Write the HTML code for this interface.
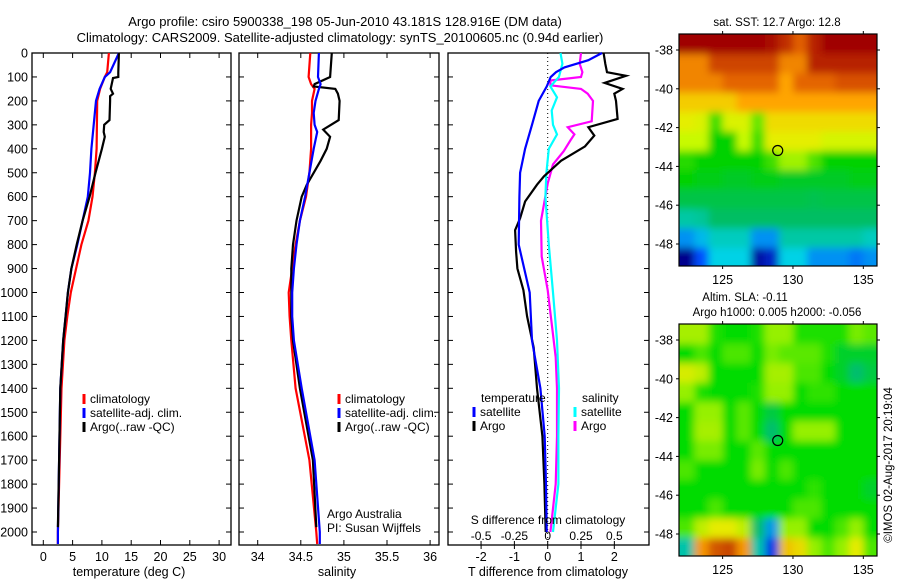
<!DOCTYPE html>
<html><head><meta charset="utf-8"><style>
body{margin:0;background:#fff;}
svg{display:block;font-family:"Liberation Sans",sans-serif;}
text{fill:#000;}
</style></head><body>
<svg id="chart" width="900" height="580" viewBox="0 0 900 580" xmlns="http://www.w3.org/2000/svg">
<defs>
<filter id="blur" filterUnits="userSpaceOnUse" x="600" y="0" width="300" height="580"><feGaussianBlur stdDeviation="4"/></filter>
</defs>
<text x="345" y="26" font-size="13" text-anchor="middle">Argo profile: csiro 5900338_198 05-Jun-2010 43.181S 128.916E (DM data)</text>
<text x="340" y="42" font-size="13" text-anchor="middle">Climatology: CARS2009. Satellite-adjusted climatology: synTS_20100605.nc (0.94d earlier)</text>
<g id="g"></g>
</svg>
<script>
// ---------- data ----------
const tDepth = [0,80,100,105,150,170,180,200,280,300,330,350,400,500,600,700,800,900,1000,1100,1200,1400,1700,1980];
const tArgo  = [12.9,12.8,12.8,11.9,11.5,11.9,11.4,11.4,11.3,10.4,10.3,10.5,10.0,8.9,7.9,6.7,5.7,4.8,4.2,3.8,3.4,2.9,2.7,2.5];
const tDepthC = [0,80,100,150,200,400,500,600,700,800,900,1000,1100,1200,1400,1700,2000,2050];
const tSat  = [12.9,11.4,10.5,9.6,9.0,8.2,7.97,7.6,6.7,5.8,4.8,4.2,3.8,3.4,2.9,2.7,2.5,2.5];
const tClim = [11.2,10.9,10.5,9.7,9.2,9.1,8.8,8.4,7.7,6.5,5.6,4.7,4.1,3.6,3.1,2.8,2.5,2.5];
const sDepth = [0,100,130,140,150,170,200,280,320,350,400,450,500,550,600,700,800,900,1000,1100,1200,1400,1700,1980];
const sArgo = [34.86,34.84,34.66,34.65,34.9,34.93,34.95,34.94,34.76,34.84,34.8,34.73,34.65,34.57,34.51,34.45,34.41,34.39,34.39,34.39,34.41,34.49,34.64,34.68];
const sDepthC = [0,100,130,150,200,250,300,330,400,500,600,700,800,900,1000,1100,1200,1400,1700,2000,2050];
const sSat  = [34.71,34.70,34.73,34.71,34.67,34.65,34.66,34.69,34.65,34.60,34.55,34.49,34.45,34.42,34.40,34.40,34.42,34.51,34.66,34.72,34.72];
const sClim = [34.61,34.59,34.62,34.66,34.63,34.63,34.62,34.62,34.62,34.60,34.56,34.49,34.44,34.40,34.36,34.37,34.39,34.44,34.60,34.68,34.69];
const dtSatDepth = [0,30,60,80,100,140,200,300,400,500,600,800,1000,1200,1400,1600,1800,2000];
const dtSat = [1.63,1.22,0.5,0.25,0.09,-0.03,-0.27,-0.47,-0.68,-0.83,-0.85,-0.87,-0.54,-0.47,-0.22,-0.09,-0.05,-0.03];
const dtArgoDepth = [0,45,80,95,125,150,170,200,275,310,345,390,450,515,550,620,690,740,830,900,990,1100,1230,1400,1600,1800,2000];
const dtArgo = [1.68,1.73,1.78,2.35,1.71,2.25,2.0,2.05,2.1,1.22,1.4,1.12,0.4,-0.11,-0.32,-0.68,-0.83,-0.98,-0.95,-0.91,-0.73,-0.62,-0.42,-0.32,-0.16,-0.1,-0.06];
const dsSatDepth = [0,45,100,140,185,240,300,340,400,500,600,800,1000,1200,1400,1600,1800,2000];
const dsSat = [0.096,0.11,0.084,0.02,0.07,0.03,0.04,0.07,0.008,-0.01,-0.017,0.008,0.04,0.07,0.085,0.08,0.08,0.04];
const dsArgoDepth = [0,45,80,100,115,135,150,170,200,285,310,340,365,410,465,545,700,850,990,1130,1270,1400,1600,1800,2000];
const dsArgo = [0.25,0.24,0.26,0.25,0.02,0.02,0.25,0.3,0.34,0.33,0.15,0.2,0.17,0.12,0.04,0.0,-0.05,-0.045,0.0,0.03,0.06,0.07,0.07,0.06,0.02];
// map grids: rows lat -37.7 .. -48.7 (1 deg), cols lon 122.5 .. 135.5
const mapLons = [122.5,123.5,124.5,125.5,126.5,127.5,128.5,129.5,130.5,131.5,132.5,133.5,134.5,135.5];
const mapLats = [-37.7,-38.7,-39.7,-40.7,-41.7,-42.7,-43.7,-44.7,-45.7,-46.7,-47.7,-48.7];
const sst = [
[17,17,17,17,17,17,16.8,16.3,15.6,16.5,17,17,17,17],
[15,15,16,16,16,16,16,15,15,16.5,16.5,16.5,16.5,16.5],
[15,15,15,15.5,15.5,15.5,15.5,14.5,15.5,15.5,15.5,15.8,15.8,15.8],
[14,14,14,14,14.5,14.5,14.5,14.5,14.5,14.5,14.5,14.5,14.5,14.5],
[13.5,13.3,12.3,13.3,13.3,12.5,13.8,13.8,13.8,13.8,13.8,13.8,13.8,13.8],
[13,13,12,12,13,12.3,13.5,13.5,13.5,13.5,13.2,13.2,13.2,13.2],
[12.2,12,12,12,12,12,12.3,12.8,12.8,12.4,12,12,12,12],
[12,11.8,11.8,11.6,11.6,11.8,11.8,11.6,11.6,11.6,11.6,11.6,11.8,11.8],
[11.3,11.3,11.3,11.3,11.3,11.3,11.3,11.3,11.3,11.2,11.3,11.3,11.3,11.3],
[10.5,10.6,11,11,11,11,11,11,11,11,11,11,11,11],
[9.5,9.8,10.3,10.3,10.3,9.5,9.5,10.5,10.5,10.5,10.5,10.5,10.5,10.3],
[8,9,10,10,10,8.2,8.5,10,10,9.5,9.5,9.5,9.3,9.5]];
const sla = [
[0.12,0.12,0.02,0,0,0.02,0.1,0.1,0.02,0.02,0.02,0.02,0.08,0.06],
[0,0.05,0,0.05,0.05,0,0.08,0.06,0.06,0.06,0.02,-0.02,-0.02,-0.02],
[0.18,0.15,0,0,0,0,0.12,0.12,0.05,0.05,0,-0.02,-0.05,-0.03],
[0.1,0.02,0,0,0,0.02,0.1,0.1,0,0.03,0.03,0,0,0],
[0,0.1,0.1,0,0.06,0,-0.03,0,0,0,0,0,0,0],
[0,0.12,0.12,0,0.06,0,-0.05,0,0.1,0.1,0.1,0,0,0],
[0,0.08,0.08,0,0,0.06,0,0,0,0,0,0,0,0],
[0.05,0,0,0,0,0.08,0,0.05,0,0,0,0,0,0],
[0,0,0,0,0,0,0,0,0,0.03,0,0,0,-0.02],
[0,0,0.05,0,0,0,0,0,0.05,0.05,0,0,0,0],
[0.05,0.15,0.2,0.2,0.15,-0.05,-0.2,0.1,0.1,0,0,0.05,0.1,0],
[-0.1,0.3,0.38,0.4,0.3,-0.1,-0.3,0.25,0.22,0.1,0.05,0.1,0.2,0.05]];
const depthTicks = [0,100,200,300,400,500,600,700,800,900,1000,1100,1200,1300,1400,1500,1600,1700,1800,1900,2000];
const tTicks = [0,5,10,15,20,25,30];
const sTicks = [34,34.5,35,35.5,36];
const dtTicks = [-2,-1,0,1,2];
const dsTicks = [-0.5,-0.25,0,0.25,0.5];
const lonTicks = [125,130,135];
const latTicks = [-38,-40,-42,-44,-46,-48];

// ---------- helpers ----------
const NS='http://www.w3.org/2000/svg';
const G=document.getElementById('g');
function mk(tag,attrs,parent){const e=document.createElementNS(NS,tag);for(const k in attrs)e.setAttribute(k,attrs[k]);(parent||G).appendChild(e);return e;}
function txt(s,x,y,size,anchor,parent){const e=mk('text',{x:x,y:y,'font-size':size,'text-anchor':anchor||'middle'},parent);e.textContent=s;return e;}
const TOP=53, BOT=545;
const yD=d=>TOP+0.2395*d;
const xT=v=>43.3+5.86*v;
const xS=v=>257.7+86.2*(v-34);
const xDT=v=>547.7+33.3*v;
const xDS=v=>547.7+133.3*v;

function frame(x0,x1,name){
  const r=mk('rect',{x:x0,y:TOP,width:x1-x0,height:BOT-TOP,fill:'none',stroke:'#000','stroke-width':1.3});
  
  
}
function depthTicksFor(x0,x1,labels){
  depthTicks.forEach(d=>{
    const y=yD(d);
    mk('line',{x1:x0,y1:y,x2:x0+5,y2:y,stroke:'#000'});
    mk('line',{x1:x1,y1:y,x2:x1-5,y2:y,stroke:'#000'});
    if(labels){const t=txt(String(d),28,y+4.5,12.5,'end');
      
      }
  });
}
function line(xs,ds,fx,color,name,w){
  const pts=xs.map((v,i)=>fx(v).toFixed(1)+','+yD(ds[i]).toFixed(1)).join(' ');
  const p=mk('polyline',{points:pts,fill:'none',stroke:color,'stroke-width':w||2.2,'stroke-linejoin':'miter'});
  
  
}
function legendEntry(x,y,color,label,name){
  const g=mk('g',{});
  
  
  mk('line',{x1:x,y1:y-9,x2:x,y2:y+1,stroke:color,'stroke-width':3},g);
  txt(label,x+6,y,12,'start',g);
}

// ---------- panel 1: temperature ----------
frame(32,231,'temperature-panel-frame');
depthTicksFor(32,231,true);
tTicks.forEach(v=>{const x=xT(v);
  mk('line',{x1:x,y1:BOT,x2:x,y2:BOT-5,stroke:'#000'});
  mk('line',{x1:x,y1:TOP,x2:x,y2:TOP+5,stroke:'#000'});
  const t=txt(String(v),x,561,12.5);
  
  
});
txt('temperature (deg C)',129,576,12.5);
line(tClim,tDepthC,xT,'#f00','temperature-climatology-line');
line(tSat,tDepthC,xT,'#00f','temperature-satellite-line');
line(tArgo,tDepth,xT,'#000','temperature-argo-line');
legendEntry(84,403,'#f00','climatology','legend-climatology');
legendEntry(84,417,'#00f','satellite-adj. clim.','legend-satellite-adj');
legendEntry(84,431,'#000','Argo(..raw -QC)','legend-argo');

// ---------- panel 2: salinity ----------
frame(239,439,'salinity-panel-frame');
depthTicksFor(239,439,false);
sTicks.forEach(v=>{const x=xS(v);
  mk('line',{x1:x,y1:BOT,x2:x,y2:BOT-5,stroke:'#000'});
  mk('line',{x1:x,y1:TOP,x2:x,y2:TOP+5,stroke:'#000'});
  const t=txt(String(v),x,561,12.5);
  
  
});
txt('salinity',337,576,12.5);
line(sClim,sDepthC,xS,'#f00','salinity-climatology-line');
line(sArgo,sDepth,xS,'#000','salinity-argo-line');
line(sSat,sDepthC,xS,'#00f','salinity-satellite-line');
legendEntry(339,403,'#f00','climatology','legend-climatology-2');
legendEntry(339,417,'#00f','satellite-adj. clim.','legend-satellite-adj-2');
legendEntry(339,431,'#000','Argo(..raw -QC)','legend-argo-2');
txt('Argo Australia',327,518,12,'start');
txt('PI: Susan Wijffels',327,532,12,'start');

// ---------- panel 3: differences ----------
frame(448,649,'difference-panel-frame');
depthTicksFor(448,649,false);
mk('line',{x1:xDT(0),y1:TOP,x2:xDT(0),y2:BOT,stroke:'#000','stroke-dasharray':'1,3'});
dtTicks.forEach(v=>{const x=xDT(v);
  mk('line',{x1:x,y1:BOT,x2:x,y2:BOT+4,stroke:'#000'});
  const t=txt(String(v),x,561,12.5);
  
  
});
dsTicks.forEach(v=>{const x=xDS(v);
  mk('line',{x1:x,y1:BOT,x2:x,y2:BOT-4,stroke:'#000'});
  const t=txt(String(v),x,540,12);
  
  
});
line(dsArgo,dsArgoDepth,xDS,'#f0f','s-diff-argo-line');
line(dsSat,dsSatDepth,xDS,'#0ff','s-diff-satellite-line');
line(dtArgo,dtArgoDepth,xDT,'#000','t-diff-argo-line');
line(dtSat,dtSatDepth,xDT,'#00f','t-diff-satellite-line');
txt('S difference from climatology',548,524,12);
txt('T difference from climatology',548,576,12.5);
txt('temperature',481,402,12,'start');
legendEntry(474,416,'#00f','satellite','legend-t-satellite');
legendEntry(474,430,'#000','Argo','legend-t-argo');
txt('salinity',582,402,12,'start');
legendEntry(575,416,'#0ff','satellite','legend-s-satellite');
legendEntry(575,430,'#f0f','Argo','legend-s-argo');

// ---------- maps ----------
function cmap(v,stops){
  if(v<=stops[0][0])return 'rgb('+stops[0][1].join(',')+')';
  for(let i=1;i<stops.length;i++){if(v<=stops[i][0]){const a=stops[i-1],b=stops[i];const f=(v-a[0])/(b[0]-a[0]);
    return 'rgb('+a[1].map((c,k)=>Math.round(c+(b[1][k]-c)*f)).join(',')+')';}}
  return 'rgb('+stops[stops.length-1][1].join(',')+')';
}
const sstStops=[[8,[0,0,140]],[9,[0,80,255]],[10,[0,210,230]],[11,[0,190,100]],[12,[0,210,0]],[13,[200,250,0]],[13.6,[235,235,0]],[14.5,[255,165,0]],[15.6,[225,95,0]],[17,[160,0,0]]];
const slaStops=[[-0.3,[0,60,230]],[-0.15,[0,200,230]],[-0.05,[0,190,110]],[0,[0,220,0]],[0.1,[150,240,0]],[0.2,[230,235,0]],[0.3,[245,150,0]],[0.4,[200,70,0]]];
const MX0=679,MX1=877;
const mxL=lon=>MX0+(lon-121.9)*14.07;
function drawMap(grid,stops,y0,name,clipId){
  const y1=y0+232;
  const myL=lat=>y0+16+(-38-lat)*19.4;
  const cp=mk('clipPath',{id:clipId});
  mk('rect',{x:MX0,y:y0,width:MX1-MX0,height:y1-y0},cp);
  const g=mk('g',{'clip-path':'url(#'+clipId+')'});
  
  
  mk('rect',{x:MX0,y:y0,width:MX1-MX0,height:y1-y0,fill:cmap(grid[6][6],stops)},g);
  const inner=mk('g',{filter:'url(#blur)'},g);
  grid.forEach((row,r)=>row.forEach((v,c)=>{
    const x=mxL(mapLons[c]-0.5), y=myL(mapLats[r]+0.5);
    const w=mxL(mapLons[c]+0.5)-x, h=myL(mapLats[r]-0.5)-y;
    const ex=(c===0?14:0), ey=(r===0?20:0);
    const rc=mk('rect',{x:(x-ex).toFixed(1),y:(y-ey).toFixed(1),width:(w+ex+(c===row.length-1?14:0)+0.5).toFixed(1),height:(h+ey+(r===grid.length-1?20:0)+0.5).toFixed(1),fill:cmap(v,stops)},inner);
    
    
  }));
  mk('rect',{x:MX0,y:y0,width:MX1-MX0,height:y1-y0,fill:'none',stroke:'#000','stroke-width':1.2});
  lonTicks.forEach(l=>{const x=mxL(l);
    mk('line',{x1:x,y1:y0,x2:x,y2:y0-3,stroke:'#000'});
    mk('line',{x1:x,y1:y1,x2:x,y2:y1+3,stroke:'#000'});
    const t=txt(String(l),x,y1+18,12.5);
    
    
  });
  latTicks.forEach(l=>{const y=myL(l);
    mk('line',{x1:MX0,y1:y,x2:MX0-3,y2:y,stroke:'#000'});
    mk('line',{x1:MX1,y1:y,x2:MX1+3,y2:y,stroke:'#000'});
    const t=txt(String(l),673,y+4.5,12.5,'end');
    
    
  });
  const c=mk('circle',{cx:mxL(128.916),cy:myL(-43.181),r:5,fill:'none',stroke:'#000','stroke-width':1.2});
  
  
}
drawMap(sst,sstStops,34,'sst-map','clip1');
drawMap(sla,slaStops,324,'sla-map','clip2');
txt('sat. SST: 12.7 Argo: 12.8',777,26,11.5);
txt('Altim. SLA: -0.11',745,301,11.5);
txt('Argo h1000: 0.005 h2000: -0.056',777,316,11.5);
const cr=txt('©IMOS 02-Aug-2017 20:19:04',0,0,11.5);
cr.setAttribute('transform','translate(892,465) rotate(-90)');


</script>
</body></html>
